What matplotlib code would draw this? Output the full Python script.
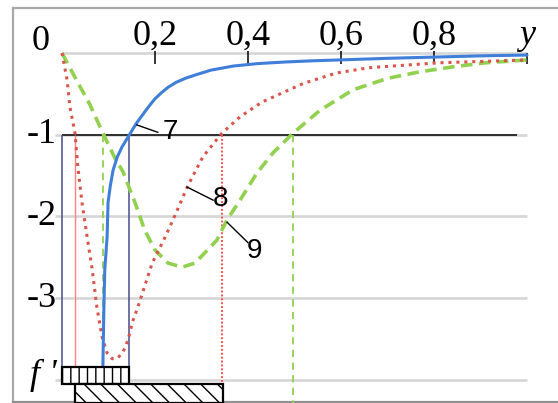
import matplotlib
matplotlib.use("Agg")
import matplotlib.pyplot as plt
from matplotlib.patches import Rectangle

# ---------------- data ----------------
x_ticks = [0.2, 0.4, 0.6, 0.8]
x_tick_labels = ["0,2", "0,4", "0,6", "0,8"]
y_ticks = [-1, -2, -3]
y_tick_labels = ["-1", "-2", "-3"]
grid_levels = [0, -1, -2, -3, -4]
threshold = -1.0

# curve 7 (blue, solid)
x7 = [0.088, 0.090, 0.092, 0.097, 0.099, 0.104, 0.110, 0.119, 0.129, 0.145,
      0.160, 0.178, 0.190, 0.200, 0.215, 0.228, 0.245, 0.265, 0.286, 0.320,
      0.368, 0.420, 0.480, 0.540, 0.596, 0.700, 0.800, 0.900, 1.000]
y7 = [-3.82, -3.14, -2.65, -2.25, -1.83, -1.62, -1.43, -1.27, -1.15, -1.00,
      -0.86, -0.72, -0.63, -0.56, -0.48, -0.42, -0.36, -0.31, -0.27, -0.21,
      -0.16, -0.13, -0.11, -0.095, -0.085, -0.065, -0.05, -0.035, -0.025]

# curve 8 (red, dotted)
x8 = [0.000, 0.011, 0.017, 0.028, 0.034, 0.043, 0.054, 0.065, 0.075, 0.086,
      0.097, 0.108, 0.120, 0.131, 0.142, 0.151, 0.163, 0.174, 0.194, 0.222,
      0.245, 0.270, 0.303, 0.344, 0.383, 0.430, 0.520, 0.590, 0.660, 0.810, 1.000]
y8 = [0.00, -0.33, -0.66, -0.98, -1.39, -1.83, -2.25, -2.65, -3.11, -3.47,
      -3.67, -3.74, -3.73, -3.66, -3.51, -3.30, -3.11, -2.92, -2.57, -2.25,
      -1.96, -1.63, -1.27, -0.98, -0.78, -0.60, -0.37, -0.245, -0.18, -0.12, -0.085]

# curve 9 (green, dashed)
x9 = [0.000, 0.030, 0.060, 0.088, 0.115, 0.131, 0.157, 0.178, 0.200, 0.228,
      0.258, 0.286, 0.333, 0.355, 0.383, 0.419, 0.454, 0.497, 0.555, 0.626,
      0.700, 0.770, 0.840, 0.910, 1.000]
y9 = [0.00, -0.32, -0.63, -0.98, -1.30, -1.45, -1.83, -2.17, -2.41, -2.57,
      -2.62, -2.57, -2.29, -2.04, -1.80, -1.47, -1.22, -0.98, -0.70, -0.45,
      -0.31, -0.23, -0.17, -0.12, -0.085]

# crossing points with f' = -1
cross7 = [0.0, 0.145]
cross8 = [0.028, 0.344]
cross9 = [0.088, 0.497]

# hatched bands (x-start, x-end, y-top, y-bottom)
band7 = [0.0, 0.145, -3.84, -4.05]
band8 = [0.028, 0.346, -4.05, -4.28]

curve_labels = ["7", "8", "9"]

# ---------------- figure ----------------
W, H = 558, 403
X0, XS = 62, 465.0
Y0, YS = 53, 81.75

fig = plt.figure(figsize=(W / 100, H / 100), dpi=100)
ax = fig.add_axes([0, 0, 1, 1])
ax.set_xlim(-X0 / XS, (W - X0) / XS)
ax.set_ylim(-(H - Y0) / YS, Y0 / YS)
ax.axis("off")

serif = ["Liberation Serif", "DejaVu Serif"]
sans = ["Liberation Sans", "DejaVu Sans"]

# outer frame
ax.plot([13 / W, 13 / W], [1 - 8 / H, 1 - 402 / H], transform=ax.transAxes,
        color="#a8a8a8", lw=1.6, clip_on=False)
ax.plot([13 / W, 1.0], [1 - 8 / H, 1 - 8 / H], transform=ax.transAxes,
        color="#a8a8a8", lw=1.6, clip_on=False)
ax.plot([13 / W, 1.0], [1 - 402 / H, 1 - 402 / H], transform=ax.transAxes,
        color="#909090", lw=1.6, clip_on=False)

# gridlines
for g in grid_levels:
    x_start = 0.0 if g == 0 else -0.015
    ax.hlines(g, x_start, 1.0, colors="#d6d6d6", lw=1.9, zorder=1)

# threshold line
ax.hlines(threshold, 0.0, 0.978, colors="black", lw=1.1, zorder=3)

# top ticks
for xt in x_ticks:
    ax.vlines(xt, -0.14, 0.03, colors="black", lw=1.1, zorder=4)
ax.vlines(1.0, -0.13, 0.0, colors="black", lw=1.1, zorder=4)

# vertical markers
band_top = band7[2]
ax.vlines(cross7, threshold, band_top, colors="#474b8e", lw=1.1, zorder=3)
ax.vlines(cross8[0], threshold, band_top, colors="#ff8080", lw=1.0, zorder=3)
ax.vlines(cross9[0], threshold, band_top, colors="#92d050", lw=1.3,
          linestyles=(0, (4, 3)), zorder=3)
ax.vlines(cross8[1], threshold, band8[2], colors="#ff5050", lw=1.4,
          linestyles=(0, (1, 1)), zorder=3)
ax.vlines(cross9[1], threshold, band8[3], colors="#92d050", lw=1.3,
          linestyles=(0, (4, 3)), zorder=3)

# curves
ax.plot(x9, y9, color="#92d050", lw=2.6, linestyle=(0, (3.2, 1.8)), zorder=5,
        solid_joinstyle="round")
ax.plot(x8, y8, color="#d9544d", lw=2.2, linestyle=(0, (1, 1.6)), zorder=6)
ax.plot(x7, y7, color="#3f7fd9", lw=2.2, zorder=7, solid_joinstyle="round",
        solid_capstyle="round")

# hatched bands
plt.rcParams["hatch.linewidth"] = 1.0
r1 = Rectangle((band7[0], band7[3]), band7[1] - band7[0], band7[2] - band7[3],
               facecolor="white", edgecolor="black", hatch="||", lw=1.6, zorder=8)
r2 = Rectangle((band8[0], band8[3]), band8[1] - band8[0], band8[2] - band8[3],
               facecolor="white", edgecolor="black", hatch="\\\\", lw=1.6, zorder=8)
ax.add_patch(r1)
ax.add_patch(r2)

# tick labels
for xt, lab in zip(x_ticks, x_tick_labels):
    ax.text(xt, 0.098, lab, ha="center", va="baseline", fontsize=26,
            family=serif)
ax.text(-0.047, 0.037, "0", ha="center", va="baseline", fontsize=26, family=serif)
ax.text(1.0, 0.11, "y", ha="center", va="baseline", fontsize=26, family=serif,
        style="italic")
for yt, lab in zip(y_ticks, y_tick_labels):
    ax.text(-0.012, yt, lab, ha="right", va="center", fontsize=26, family=serif)
ax.text(-0.012, -3.95, "f '", ha="right", va="center", fontsize=26, family=serif,
        style="italic")

# curve annotations
label_pos = [(0.232, -0.97), (0.340, -1.79), (0.415, -2.42)]
leader_from = [(0.161, -0.88), (0.269, -1.64), (0.355, -2.07)]
leader_to = [(0.206, -0.97), (0.325, -1.80), (0.400, -2.32)]
for lab, p, a, b in zip(curve_labels, label_pos, leader_from, leader_to):
    ax.plot([a[0], b[0]], [a[1], b[1]], color="black", lw=1.0, zorder=9)
    ax.text(p[0], p[1], lab, ha="center", va="center", fontsize=20,
            family=sans, zorder=9)

fig.savefig("out.png", dpi=100)
